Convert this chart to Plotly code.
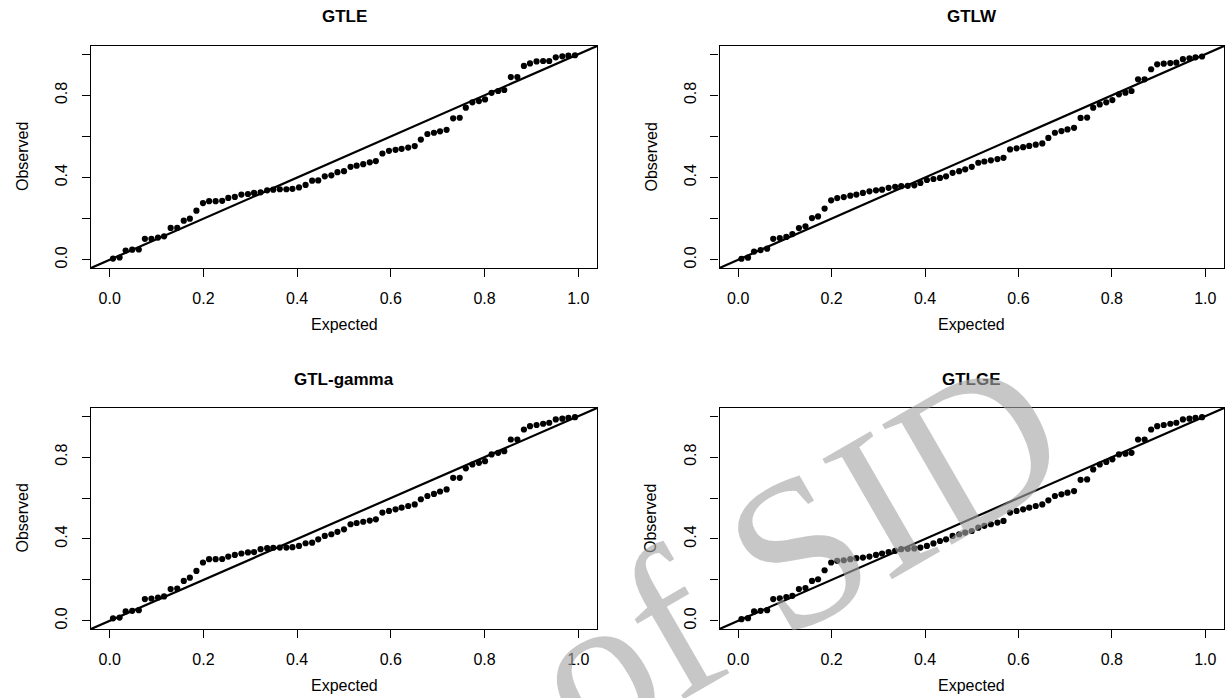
import plotly.graph_objects as go

# ---------------- data ----------------
expected = [0.007, 0.021, 0.034, 0.048, 0.062, 0.075, 0.089, 0.103, 0.116, 0.130,
            0.144, 0.158, 0.171, 0.185, 0.199, 0.212, 0.226, 0.240, 0.253, 0.267,
            0.281, 0.295, 0.308, 0.322, 0.336, 0.349, 0.363, 0.377, 0.390, 0.404,
            0.418, 0.432, 0.445, 0.459, 0.473, 0.486, 0.500, 0.514, 0.527, 0.541,
            0.555, 0.568, 0.582, 0.596, 0.610, 0.623, 0.637, 0.651, 0.664, 0.678,
            0.692, 0.705, 0.719, 0.733, 0.747, 0.760, 0.774, 0.788, 0.801, 0.815,
            0.829, 0.842, 0.856, 0.870, 0.884, 0.897, 0.911, 0.925, 0.938, 0.952,
            0.966, 0.979, 0.993]

obs_gtle = [0.006, 0.011, 0.045, 0.049, 0.050, 0.102, 0.102, 0.108, 0.114, 0.155,
            0.155, 0.190, 0.200, 0.239,
            0.276, 0.285, 0.285, 0.287, 0.301, 0.306, 0.317, 0.320, 0.325, 0.328,
            0.338, 0.341, 0.343, 0.343, 0.345, 0.352, 0.364, 0.385, 0.386, 0.406,
            0.411, 0.426, 0.431,
            0.452, 0.458, 0.465, 0.474, 0.480,
            0.517, 0.530, 0.535, 0.540, 0.546, 0.553,
            0.585,
            0.612, 0.618, 0.625, 0.632,
            0.688, 0.691,
            0.740,
            0.766, 0.772, 0.780,
            0.812, 0.821, 0.826,
            0.889, 0.889,
            0.943,
            0.955, 0.965, 0.967, 0.967,
            0.985, 0.990, 0.993, 0.995]

obs_gtlw = [0.005, 0.010, 0.040, 0.047, 0.054, 0.102, 0.106, 0.111, 0.125, 0.154,
            0.163, 0.203, 0.211, 0.249,
            0.289, 0.300, 0.305, 0.312, 0.317, 0.325, 0.333, 0.338, 0.341, 0.350,
            0.355, 0.358, 0.360, 0.362, 0.374, 0.388, 0.393, 0.398, 0.406, 0.423,
            0.431, 0.440, 0.452,
            0.472, 0.478, 0.484, 0.490, 0.496,
            0.537, 0.542, 0.548, 0.554, 0.560, 0.566,
            0.593,
            0.618, 0.626, 0.634, 0.642,
            0.690, 0.692,
            0.740,
            0.756, 0.766, 0.777,
            0.805, 0.813, 0.821,
            0.878, 0.878,
            0.927,
            0.951, 0.954, 0.957, 0.959,
            0.976, 0.980, 0.985, 0.989]

obs_gtlgamma = [0.012, 0.016, 0.046, 0.049, 0.052, 0.106, 0.109, 0.114, 0.119, 0.155,
                0.158, 0.195, 0.211, 0.244,
                0.285, 0.301, 0.301, 0.302, 0.314, 0.322, 0.329, 0.334, 0.336, 0.350,
                0.355, 0.357, 0.358, 0.358, 0.360, 0.366, 0.379, 0.382, 0.398, 0.415,
                0.423, 0.435, 0.447,
                0.472, 0.478, 0.484, 0.490, 0.496,
                0.529, 0.537, 0.545, 0.553, 0.561, 0.569,
                0.594,
                0.610, 0.620, 0.632, 0.642,
                0.699, 0.699,
                0.745,
                0.764, 0.772, 0.780,
                0.813, 0.821, 0.829,
                0.886, 0.886,
                0.935,
                0.951, 0.957, 0.963, 0.968,
                0.984, 0.988, 0.992, 0.995]

obs_gtlge = [0.008, 0.013, 0.046, 0.049, 0.052, 0.106, 0.110, 0.116, 0.122, 0.155,
             0.160, 0.195, 0.203, 0.247,
             0.285, 0.293, 0.296, 0.301, 0.306, 0.309, 0.314, 0.322, 0.329, 0.336,
             0.342, 0.350, 0.352, 0.354, 0.358, 0.366, 0.378, 0.390, 0.398,
             0.415, 0.423, 0.431, 0.439,
             0.455, 0.464, 0.472, 0.480, 0.488,
             0.529, 0.537, 0.545, 0.553, 0.561, 0.569,
             0.589,
             0.610, 0.618, 0.626, 0.634,
             0.689, 0.691,
             0.740,
             0.764, 0.776, 0.789,
             0.813, 0.817, 0.821,
             0.886, 0.886,
             0.935,
             0.951, 0.957, 0.963, 0.968,
             0.984, 0.988, 0.992, 0.995]

panel_titles = ["GTLE", "GTLW", "GTL-gamma", "GTLGE"]
panel_obs = [obs_gtle, obs_gtlw, obs_gtlgamma, obs_gtlge]
tick_vals = [0.0, 0.2, 0.4, 0.6, 0.8, 1.0]
x_tick_text = ["0.0", "0.2", "0.4", "0.6", "0.8", "1.0"]
y_tick_text = ["0.0", "", "0.4", "", "0.8", ""]
axis_range = [-0.04, 1.04]
x_label = "Expected"
y_label = "Observed"
watermark = "of SID"

# ---------------- layout (pixels) ----------------
W, H = 1227, 698
FONT = "Liberation Sans, Arial, Helvetica, sans-serif"
# plot boxes: (left, right, top, bottom) in px
boxes = [(91, 597, 46, 268), (719.5, 1224, 46, 268),
         (91, 597, 408, 629), (719.5, 1224, 408, 629)]


def px_x(v):
    return v / W


def px_y(v):
    return 1 - v / H


fig = go.Figure()
annotations = []

for i, (title, obs) in enumerate(zip(panel_titles, panel_obs)):
    n = i + 1
    xa = "x" if n == 1 else f"x{n}"
    ya = "y" if n == 1 else f"y{n}"
    l, r, t, b = boxes[i]

    fig.add_trace(go.Scatter(
        x=axis_range, y=axis_range, mode="lines",
        line=dict(color="black", width=2.2),
        xaxis=xa, yaxis=ya, showlegend=False, hoverinfo="skip"))
    fig.add_trace(go.Scatter(
        x=expected, y=obs, mode="markers",
        marker=dict(color="black", size=6.2, line=dict(width=0)),
        xaxis=xa, yaxis=ya, showlegend=False))

    common = dict(range=axis_range, tickvals=tick_vals, ticks="outside",
                  ticklen=8, tickwidth=1, tickcolor="black",
                  showline=True, linecolor="black", linewidth=1.3, mirror=True,
                  showgrid=False, zeroline=False,
                  tickfont=dict(family=FONT, size=16, color="black"),
                  ticklabelstandoff=8, automargin=False, fixedrange=True)
    fig.update_layout(**{
        ("xaxis" if n == 1 else f"xaxis{n}"): dict(
            domain=[px_x(l), px_x(r)], anchor=ya, ticktext=x_tick_text, **common),
        ("yaxis" if n == 1 else f"yaxis{n}"): dict(
            domain=[px_y(b), px_y(t)], anchor=xa, ticktext=y_tick_text,
            tickangle=-90, **common),
    })

    cx = (l + r) / 2
    annotations.append(dict(text=f"<b>{title}</b>", x=px_x(cx), y=px_y(t - 29),
                            xref="paper", yref="paper", showarrow=False,
                            xanchor="center", yanchor="middle",
                            font=dict(family=FONT, size=17, color="black")))
    annotations.append(dict(text=x_label, x=px_x(cx), y=px_y(b + 56),
                            xref="paper", yref="paper", showarrow=False,
                            xanchor="center", yanchor="middle",
                            font=dict(family=FONT, size=16, color="black")))
    annotations.append(dict(text=y_label, x=px_x(l - 69), y=px_y((t + b) / 2),
                            xref="paper", yref="paper", showarrow=False,
                            xanchor="center", yanchor="middle", textangle=-90,
                            font=dict(family=FONT, size=16, color="black")))

annotations.append(dict(text=watermark, x=px_x(795), y=px_y(552),
                        xref="paper", yref="paper", showarrow=False,
                        xanchor="center", yanchor="middle", textangle=-30,
                        font=dict(family="Liberation Serif, DejaVu Serif, serif",
                                  size=212, color="rgba(164,164,164,0.62)")))

fig.update_layout(width=W, height=H, margin=dict(l=0, r=0, t=0, b=0),
                  paper_bgcolor="white", plot_bgcolor="white",
                  showlegend=False, annotations=annotations)

fig.write_html("out.html")
